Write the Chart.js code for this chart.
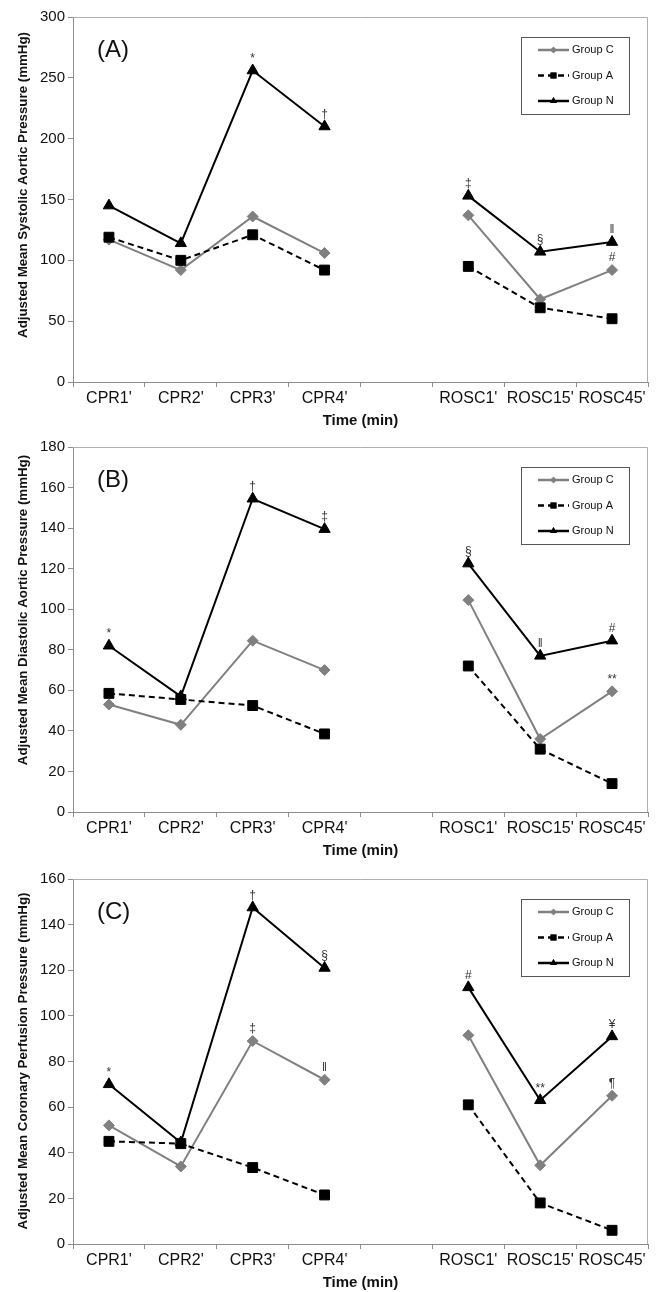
<!DOCTYPE html>
<html>
<head>
<meta charset="utf-8">
<script src="https://cdn.jsdelivr.net/npm/chart.js@4"></script>
<style>
  html, body { margin: 0; padding: 0; background: #fff; }
  #wrap { position: relative; width: 656px; height: 1292px; }
  canvas { position: absolute; left: 0; display: block; }
</style>
</head>
<body>
<div id="wrap">
  <canvas id="chartA" width="656" height="430" style="top:0"></canvas>
  <canvas id="chartB" width="656" height="430" style="top:430px"></canvas>
  <canvas id="chartC" width="656" height="432" style="top:860px"></canvas>
</div>
<script>
"use strict";

// Time points; the empty slot is the gap between CPR and ROSC.
const timeLabels = ["CPR1'", "CPR2'", "CPR3'", "CPR4'", "", "ROSC1'", "ROSC15'", "ROSC45'"];
const groupNames = ["Group C", "Group A", "Group N"];

// (A) systolic aortic pressure
const sysC = [117, 92, 136, 106, null, 137, 68, 92];
const sysA = [119, 100, 121, 92, null, 95, 61, 52];
const sysN = [145, 114, 256, 210, null, 153, 107, 115];

// (B) diastolic aortic pressure
const diaC = [53, 43, 84.5, 70, null, 104.5, 36, 59.5];
const diaA = [58.5, 55.5, 52.5, 38.5, null, 72, 31, 14];
const diaN = [82, 57, 154.5, 139.5, null, 122.5, 77, 84.5];

// (C) coronary perfusion pressure
const cppC = [52, 34, 89, 72, null, 91.5, 34.5, 65];
const cppA = [45, 44, 33.5, 21.5, null, 61, 18, 6];
const cppN = [70, 44.5, 147.5, 121, null, 112.5, 63, 91];

// significance marks: [group, time index, symbol]
const marksA = [["N", 2, "*"], ["N", 3, "†"], ["N", 5, "‡"], ["N", 6, "§"], ["N", 7, "‖"], ["C", 7, "#"]];
const marksB = [["N", 0, "*"], ["N", 2, "†"], ["N", 3, "‡"], ["N", 5, "§"], ["N", 6, "‖"], ["N", 7, "#"], ["C", 7, "**"]];
const marksC = [["N", 0, "*"], ["N", 2, "†"], ["C", 2, "‡"], ["N", 3, "§"], ["C", 3, "‖"], ["N", 5, "#"], ["N", 6, "**"], ["N", 7, "¥"], ["C", 7, "¶"]];

const FONT = "'Liberation Sans', Arial, sans-serif";
const AXIS = "#8c8c8c";

const styles = {
  C: { color: "#808080", dash: [], shape: "rectRot", radius: 5.5 },
  A: { color: "#000000", dash: [6, 4], shape: "rect", radius: 7 },
  N: { color: "#000000", dash: [], shape: "triangle", radius: 6.5 },
};

function makeDataset(key, name, values, order) {
  const s = styles[key];
  return {
    label: name,
    key: key,
    data: values,
    order: order,
    borderColor: s.color,
    backgroundColor: s.color,
    borderWidth: 2,
    borderDash: s.dash,
    pointStyle: s.shape,
    pointRadius: s.radius,
    pointBorderWidth: 1,
    pointBackgroundColor: s.color,
    pointBorderColor: s.color,
    spanGaps: false,
    tension: 0,
  };
}

// top and right edges of the plot frame, panel letter and y title
const framePlugin = {
  id: "frame",
  beforeDatasetsDraw(chart, args, opts) {
    const { ctx, chartArea: a } = chart;
    ctx.save();
    ctx.strokeStyle = "#b0b0b0";
    ctx.lineWidth = 1;
    ctx.beginPath();
    ctx.moveTo(a.left, a.top + 0.5);
    ctx.lineTo(a.right - 0.5, a.top + 0.5);
    ctx.lineTo(a.right - 0.5, a.bottom);
    ctx.stroke();
    ctx.fillStyle = "#111";
    ctx.font = "24px " + FONT;
    ctx.textBaseline = "middle";
    ctx.fillText(opts.letter, a.left + 24, a.top + 33);

    ctx.translate(23, opts.titleY);
    ctx.rotate(-Math.PI / 2);
    ctx.font = "bold 13.3px " + FONT;
    ctx.textAlign = "center";
    ctx.fillText(opts.yTitle, 0, 0);
    ctx.restore();
  },
};

// small symbols above the points
const marksPlugin = {
  id: "marks",
  afterDatasetsDraw(chart, args, opts) {
    const { ctx } = chart;
    ctx.save();
    ctx.fillStyle = "#333";
    ctx.font = "12px " + FONT;
    ctx.textAlign = "center";
    ctx.textBaseline = "bottom";
    for (const [key, idx, sym] of opts.list) {
      const di = chart.data.datasets.findIndex((d) => d.key === key);
      const pt = chart.getDatasetMeta(di).data[idx];
      ctx.fillText(sym, pt.x, pt.y - 6);
    }
    ctx.restore();
  },
};

// boxed legend in the upper right corner
const legendPlugin = {
  id: "boxLegend",
  afterDraw(chart, args, opts) {
    const { ctx } = chart;
    const top = opts.top;
    ctx.save();
    ctx.strokeStyle = "#555";
    ctx.lineWidth = 1;
    ctx.strokeRect(521.5, top + 0.5, 108, 77);
    ctx.font = "11px " + FONT;
    ctx.textBaseline = "middle";
    const byKey = {};
    chart.data.datasets.forEach((d) => { byKey[d.key] = d; });
    ["C", "A", "N"].forEach((key, i) => {
      const d = byKey[key];
      const y = top + 13 + i * 25.5;
      ctx.strokeStyle = d.borderColor;
      ctx.lineWidth = 2.5;
      ctx.setLineDash(d.borderDash);
      ctx.beginPath();
      ctx.moveTo(538, y);
      ctx.lineTo(569, y);
      ctx.stroke();
      ctx.setLineDash([]);
      ctx.fillStyle = d.borderColor;
      Chart.helpers.drawPoint(ctx, { pointStyle: d.pointStyle, radius: d.pointRadius * 0.6, borderWidth: 0 }, 553.5, y);
      ctx.fill();
      ctx.fillStyle = "#111";
      ctx.fillText(d.label, 572, y);
    });
    ctx.restore();
  },
};

function makePanel(id, letter, yTitle, titleY, yMax, yStep, seriesC, seriesA, seriesN, marks, topPad) {
  const canvas = document.getElementById(id);
  const H = canvas.height;
  const plotBottom = topPad + 365;
  return new Chart(canvas, {
    type: "line",
    data: {
      labels: timeLabels,
      datasets: [
        makeDataset("C", groupNames[0], seriesC, 3),
        makeDataset("A", groupNames[1], seriesA, 1),
        makeDataset("N", groupNames[2], seriesN, 2),
      ],
    },
    plugins: [framePlugin, marksPlugin, legendPlugin],
    options: {
      responsive: false,
      animation: false,
      devicePixelRatio: 1,
      layout: { padding: { top: topPad, right: 7, left: 0, bottom: 0 } },
      plugins: {
        legend: { display: false },
        tooltip: { enabled: false },
        frame: { letter: letter, yTitle: yTitle, titleY: titleY },
        marks: { list: marks },
        boxLegend: { top: topPad + 20 },
      },
      scales: {
        x: {
          type: "category",
          offset: true,
          grid: { offset: true, drawOnChartArea: false, drawTicks: true, tickLength: 5, color: AXIS },
          border: { color: AXIS },
          ticks: { font: { family: FONT, size: 16 }, color: "#111", padding: 2, maxRotation: 0, autoSkip: false },
          title: { display: true, text: "Time (min)", font: { family: FONT, size: 15, weight: "bold" }, color: "#111", padding: { top: 0, bottom: 0 } },
          afterFit(scale) { scale.height = H - plotBottom; },
        },
        y: {
          min: 0,
          max: yMax,
          ticks: { stepSize: yStep, font: { family: FONT, size: 15 }, color: "#111", padding: 3 },
          grid: { drawOnChartArea: false, drawTicks: true, tickLength: 5, color: AXIS },
          border: { color: AXIS },
          afterFit(scale) { scale.width = 73; },
        },
      },
    },
  });
}

makePanel("chartA", "(A)", "Adjusted Mean Systolic Aortic Pressure (mmHg)", 185, 300, 50, sysC, sysA, sysN, marksA, 17);
makePanel("chartB", "(B)", "Adjusted Mean Diastolic Aortic Pressure (mmHg)", 180, 180, 20, diaC, diaA, diaN, marksB, 17);
makePanel("chartC", "(C)", "Adjusted Mean Coronary Perfusion Pressure (mmHg)", 201, 160, 20, cppC, cppA, cppN, marksC, 19);
</script>
</body>
</html>
